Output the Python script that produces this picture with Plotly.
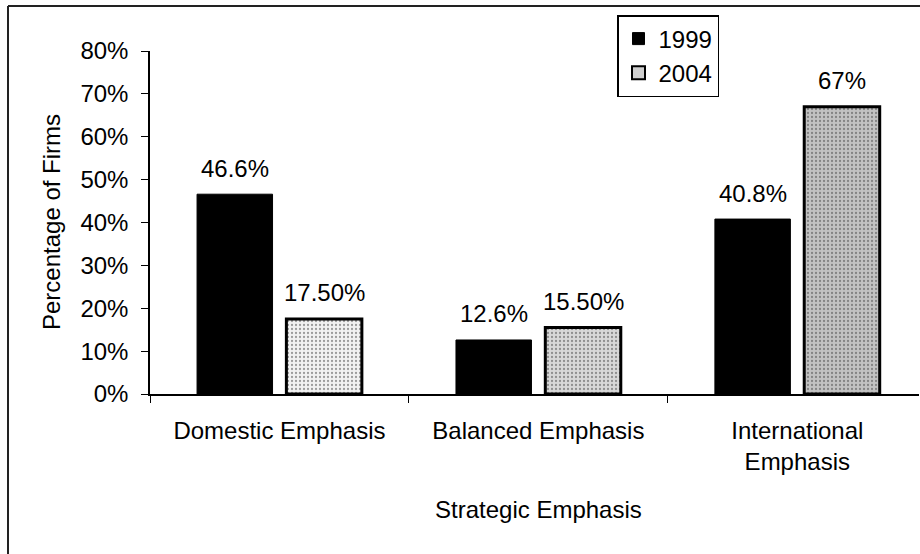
import plotly.graph_objects as go

categories = ["Domestic Emphasis", "Balanced Emphasis", "International<br>Emphasis"]
values_1999 = [46.6, 12.6, 40.8]
values_2004 = [17.5, 15.5, 67.0]
labels_1999 = ["46.6%", "12.6%", "40.8%"]
labels_2004 = ["17.50%", "15.50%", "67%"]
y_ticks = [0, 10, 20, 30, 40, 50, 60, 70, 80]
y_tick_labels = ["0%", "10%", "20%", "30%", "40%", "50%", "60%", "70%", "80%"]

FONT = "Liberation Sans, Arial, sans-serif"
FS = 24
COLORS_2004 = ["#f2f2f2", "#d8d8d8", "#c2c2c2"]
PATTERN = dict(shape=".", fgcolor="#8c8c8c", size=4, solidity=0.25, fillmode="overlay")

BARGAP = 0.31
BARGROUPGAP = 0.155
slot = (1 - BARGAP) / 2  # width of each trace slot in category units

fig = go.Figure()
fig.add_trace(go.Bar(
    name="1999", x=categories, y=values_1999,
    marker=dict(color="black", line=dict(color="black", width=1)),
))
fig.add_trace(go.Bar(
    name="2004", x=categories, y=values_2004, showlegend=False,
    marker=dict(color=COLORS_2004, line=dict(color="black", width=3), pattern=PATTERN),
))
# legend swatch for 2004 (no data)
fig.add_trace(go.Scatter(
    name="2004", x=[None], y=[None], mode="markers",
    marker=dict(symbol="square", size=13, color="#cfcfcf",
                line=dict(color="black", width=2)),
))

# plot area pixels: x 150..919, y 51..394
px0, px1, py0, py1 = 150, 919, 51, 394
W, H = 920, 554
pw, ph = px1 - px0, py1 - py0

def fx(p):
    return (p - px0) / pw

def fy(p):
    return (py1 - p) / ph

annotations = []
for i, (v, t) in enumerate(zip(values_1999, labels_1999)):
    annotations.append(dict(text=t, x=i - slot / 2, y=v, xref="x", yref="y",
                            showarrow=False, yanchor="middle", yshift=26,
                            font=dict(family=FONT, size=FS, color="black")))
for i, (v, t) in enumerate(zip(values_2004, labels_2004)):
    annotations.append(dict(text=t, x=i + slot / 2, y=v, xref="x", yref="y",
                            showarrow=False, yanchor="middle", yshift=26,
                            font=dict(family=FONT, size=FS, color="black")))
annotations += [
    dict(text="Percentage of Firms", textangle=-90, showarrow=False,
         xref="paper", yref="paper", x=fx(52), y=fy(222),
         xanchor="center", yanchor="middle",
         font=dict(family=FONT, size=FS, color="black")),
    dict(text="Strategic Emphasis", showarrow=False,
         xref="x", yref="paper", x=1, y=fy(510),
         xanchor="center", yanchor="middle",
         font=dict(family=FONT, size=FS, color="black")),
]

fig.update_layout(
    width=W, height=H,
    margin=dict(l=px0, r=W - px1, t=py0, b=H - py1),
    paper_bgcolor="white", plot_bgcolor="white",
    font=dict(family=FONT, size=FS, color="black"),
    barmode="group", bargap=BARGAP, bargroupgap=BARGROUPGAP,
    showlegend=True,
    legend=dict(
        x=fx(617), y=fy(15), xanchor="left", yanchor="top",
        bordercolor="black", borderwidth=1.5, bgcolor="white",
        font=dict(family=FONT, size=FS, color="black"),
        itemwidth=30, tracegroupgap=2,
    ),
    xaxis=dict(
        type="category", range=[-0.5, 2.47],
        showline=True, linecolor="black", linewidth=1.5,
        ticks="outside", ticklen=7, tickcolor="black", tickwidth=1.2,
        tickson="boundaries", showgrid=False, zeroline=False,
        tickfont=dict(family=FONT, size=FS, color="black"),
        ticklabelstandoff=14,
    ),
    yaxis=dict(
        range=[0, 80], tickvals=y_ticks, ticktext=y_tick_labels,
        showline=True, linecolor="black", linewidth=1.5,
        ticks="outside", ticklen=7, tickcolor="black", tickwidth=1.2,
        showgrid=False, zeroline=False,
        tickfont=dict(family=FONT, size=FS, color="black"),
        ticklabelstandoff=8,
    ),
    annotations=annotations,
    shapes=[
        dict(type="line", xref="paper", yref="paper",
             x0=fx(8), x1=fx(8), y0=fy(6), y1=fy(560),
             line=dict(color="#222", width=2)),
        dict(type="line", xref="paper", yref="paper",
             x0=fx(8), x1=fx(925), y0=fy(6), y1=fy(6),
             line=dict(color="#222", width=2)),
    ],
)

fig.write_html("out.html", config={"displayModeBar": False},
               post_script="document.body.style.margin='0';document.body.style.overflow='hidden';")
